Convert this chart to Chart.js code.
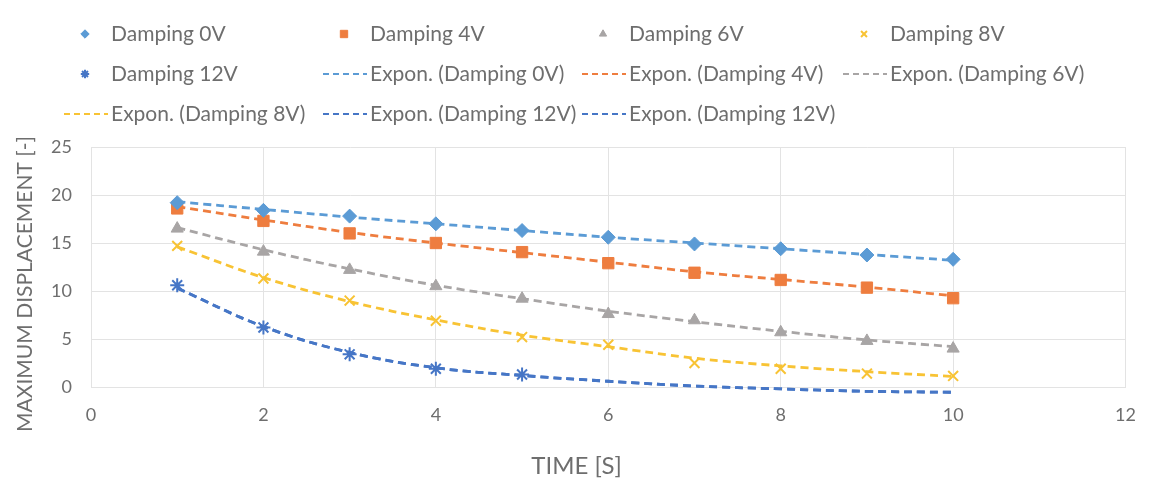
<!DOCTYPE html>
<html>
<head>
<meta charset="utf-8">
<title>Maximum displacement vs time</title>
<script src="https://cdn.jsdelivr.net/npm/chart.js@4/dist/chart.umd.min.js"></script>
<style>
  html, body { margin: 0; padding: 0; background: #fff; }
  canvas { display: block; }
</style>
</head>
<body>
<canvas id="chart" width="1153" height="481"></canvas>
<script>
// Time steps [s]
const time = [1, 2, 3, 4, 5, 6, 7, 8, 9, 10];
const time12 = [1, 2, 3, 4, 5];

// Measured maximum displacement per damping voltage
const damping0 = [19.2, 18.4, 17.8, 17.0, 16.3, 15.6, 14.9, 14.4, 13.75, 13.3];
const damping4 = [18.6, 17.3, 16.0, 15.0, 14.05, 12.9, 11.9, 11.15, 10.35, 9.25];
const damping6 = [16.5, 14.1, 12.2, 10.5, 9.2, 7.6, 6.95, 5.7, 4.8, 4.0];
const damping8 = [14.7, 11.3, 9.0, 6.9, 5.2, 4.4, 2.5, 1.9, 1.4, 1.15];
const damping12 = [10.6, 6.2, 3.4, 1.9, 1.3];

// Trendlines
const trend0 = [19.3, 18.5, 17.7, 17.0, 16.3, 15.6, 15.0, 14.4, 13.8, 13.2];
const trend4 = [18.8, 17.4, 16.1, 15.0, 14.0, 13.0, 12.0, 11.2, 10.4, 9.5];
const trend6 = [16.6, 14.3, 12.3, 10.6, 9.2, 7.9, 6.8, 5.8, 4.9, 4.2];
const trend8 = [14.6, 11.4, 8.9, 7.0, 5.4, 4.2, 3.0, 2.2, 1.6, 1.1];
const trend12 = [10.3, 6.3, 3.6, 2.0, 1.2, 0.6, 0.1, -0.2, -0.45, -0.55];

// Axis titles
const xTitle = 'TIME [S]';
const yTitle = 'MAXIMUM DISPLACEMENT [-]';

// Colours
const BLUE = '#5B9BD5';
const ORANGE = '#EE7D3F';
const GREY = '#A8A5A5';
const YELLOW = '#F8C334';
const DARKBLUE = '#4676C6';
const TEXT = '#6E6E6E';
const GRID = '#E3E3E3';
const FONT = 'Lato, "Open Sans", sans-serif';

const toPoints = (xs, ys) => xs.map((x, i) => ({ x: x, y: ys[i] }));

// Marker series
const markerSet = (label, xs, ys, color, style, radius) => ({
  label: label,
  data: toPoints(xs, ys),
  showLine: false,
  pointStyle: style,
  pointRadius: radius,
  pointBackgroundColor: color,
  pointBorderColor: color,
  pointBorderWidth: (style === 'crossRot' || style === 'star') ? 2 : 1,
  backgroundColor: color,
  borderColor: color
});

// Dashed trendline series
const trendSet = (label, ys, color) => ({
  label: label,
  data: toPoints(time, ys),
  showLine: true,
  borderColor: color,
  backgroundColor: color,
  borderWidth: 2.8,
  borderDash: [8, 5],
  pointRadius: 0,
  tension: 0.4,
  clip: false,
  isTrend: true
});

const datasets = [
  markerSet('Damping 0V', time, damping0, BLUE, 'rectRot', 7),
  markerSet('Damping 4V', time, damping4, ORANGE, 'rect', 8),
  markerSet('Damping 6V', time, damping6, GREY, 'triangle', 7),
  markerSet('Damping 8V', time, damping8, YELLOW, 'crossRot', 7),
  markerSet('Damping 12V', time12, damping12, DARKBLUE, 'star', 7),
  trendSet('Expon. (Damping 0V)', trend0, BLUE),
  trendSet('Expon. (Damping 4V)', trend4, ORANGE),
  trendSet('Expon. (Damping 6V)', trend6, GREY),
  trendSet('Expon. (Damping 8V)', trend8, YELLOW),
  trendSet('Expon. (Damping 12V)', trend12, DARKBLUE),
  trendSet('Expon. (Damping 12V)', trend12, DARKBLUE)
];

// Legend grid: 4 columns, rows filled left to right
const LEGEND_TEXT_X = [111, 370, 629, 890];
const LEGEND_ROW_Y = [34, 74, 114];

const whiteBackground = {
  id: 'whiteBackground',
  beforeDraw(chart) {
    const ctx = chart.ctx;
    ctx.save();
    ctx.fillStyle = '#fff';
    ctx.fillRect(0, 0, chart.width, chart.height);
    ctx.restore();
  }
};

const gridLegend = {
  id: 'gridLegend',
  afterDraw(chart) {
    const ctx = chart.ctx;
    ctx.save();
    chart.data.datasets.forEach((ds, i) => {
      const tx = LEGEND_TEXT_X[i % 4];
      const ty = LEGEND_ROW_Y[Math.floor(i / 4)];
      if (ds.isTrend) {
        ctx.strokeStyle = ds.borderColor;
        ctx.lineWidth = 2;
        ctx.setLineDash([6, 4]);
        ctx.beginPath();
        ctx.moveTo(tx - 47, ty);
        ctx.lineTo(tx - 3, ty);
        ctx.stroke();
        ctx.setLineDash([]);
      } else {
        ctx.fillStyle = ds.pointBackgroundColor;
        ctx.strokeStyle = ds.pointBorderColor;
        ctx.lineWidth = ds.pointBorderWidth;
        ctx.setLineDash([]);
        const scale = ds.pointStyle === 'rect' ? 0.65 : 0.6;
        Chart.helpers.drawPoint(ctx, {
          pointStyle: ds.pointStyle,
          radius: ds.pointRadius * scale,
          rotation: 0,
          borderWidth: ds.pointBorderWidth
        }, tx - 26, ty);
      }
      ctx.fillStyle = TEXT;
      ctx.font = '21px ' + FONT;
      ctx.textAlign = 'left';
      ctx.textBaseline = 'middle';
      ctx.fillText(ds.label, tx, ty);
    });
    ctx.restore();
  }
};

// Axis titles sit where the original placed them, not centred on the plot
const axisTitles = {
  id: 'axisTitles',
  afterDraw(chart) {
    const ctx = chart.ctx;
    ctx.save();
    ctx.fillStyle = TEXT;
    ctx.textAlign = 'center';
    ctx.textBaseline = 'middle';
    ctx.font = '24px ' + FONT;
    ctx.fillText(xTitle, chart.width / 2, 466);
    ctx.translate(25, 284);
    ctx.rotate(-Math.PI / 2);
    ctx.font = '21px ' + FONT;
    ctx.fillText(yTitle, 0, 0);
    ctx.restore();
  }
};

new Chart(document.getElementById('chart'), {
  type: 'scatter',
  data: { datasets: datasets },
  plugins: [whiteBackground, gridLegend, axisTitles],
  options: {
    responsive: false,
    animation: false,
    devicePixelRatio: 1,
    layout: { padding: { top: 147, right: 22, left: 0, bottom: 0 } },
    plugins: {
      legend: { display: false },
      tooltip: { enabled: false }
    },
    scales: {
      x: {
        type: 'linear',
        min: 0,
        max: 12,
        ticks: { stepSize: 2, padding: 17, color: TEXT, font: { family: FONT, size: 18 } },
        grid: { color: GRID, drawTicks: false },
        border: { color: GRID },
        afterFit: (scale) => { scale.height = 94; }
      },
      y: {
        min: 0,
        max: 25,
        ticks: { stepSize: 5, padding: 19, color: TEXT, font: { family: FONT, size: 18 } },
        grid: { color: GRID, drawTicks: false },
        border: { color: GRID },
        afterFit: (scale) => { scale.width = 91; }
      }
    }
  }
});
</script>
</body>
</html>
